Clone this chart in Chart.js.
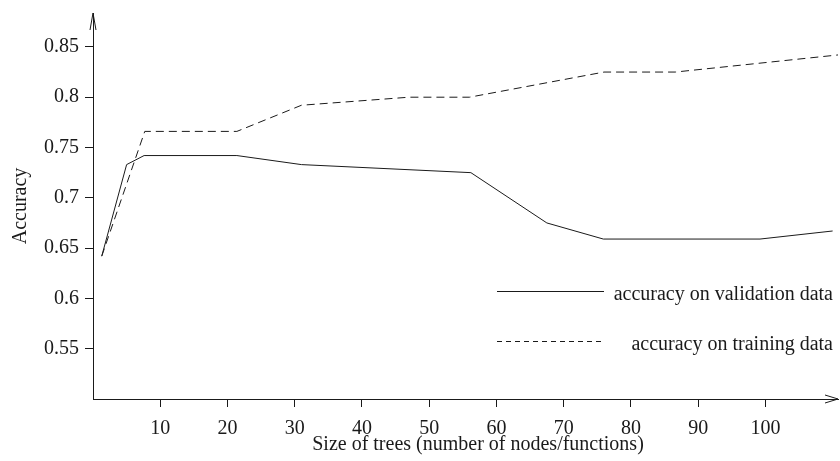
<!DOCTYPE html>
<html>
<head>
<meta charset="utf-8">
<script src="https://cdn.jsdelivr.net/npm/chart.js@4.4.1/dist/chart.umd.min.js"></script>
<style>
  html, body { margin: 0; padding: 0; background: #fff; }
  #wrap { width: 840px; height: 461px; }
</style>
</head>
<body>
<div id="wrap"><canvas id="grafica" width="840" height="461"></canvas></div>
<script>
// Accuracy vs. tree size
const sizeValid = [1.3, 5, 7.6, 21.4, 31, 56.2, 67.5, 75.9, 99.2, 110];
const accValid  = [0.642, 0.733, 0.742, 0.742, 0.733, 0.725, 0.675, 0.659, 0.659, 0.667];
const sizeTrain = [1.3, 7.7, 21.4, 31, 47, 56, 76, 86.6, 110.8];
const accTrain  = [0.642, 0.766, 0.766, 0.792, 0.8, 0.8, 0.825, 0.825, 0.842];

const xTicks = [10, 20, 30, 40, 50, 60, 70, 80, 90, 100];
const yTicks = [0.55, 0.6, 0.65, 0.7, 0.75, 0.8, 0.85];

const labelValid = 'accuracy on validation data';
const labelTrain = 'accuracy on training data';
const tituloX = 'Size of trees (number of nodes/functions)';

const fuente = 'Liberation Serif, Times New Roman, serif';
const tinta = '#1a1a1a';

// Arrow heads, x-axis title and the legend inside the plot
const flechasYLeyenda = {
    id: 'flechasYLeyenda',
    afterDraw(chart) {
        const ctx = chart.ctx;
        const a = chart.chartArea;
        ctx.save();
        ctx.strokeStyle = tinta;
        ctx.lineWidth = 1;
        // y arrow
        ctx.beginPath();
        ctx.moveTo(a.left - 3, a.top + 17);
        ctx.lineTo(a.left, a.top);
        ctx.lineTo(a.left + 3, a.top + 17);
        ctx.stroke();
        // x arrow
        ctx.beginPath();
        ctx.moveTo(a.right - 13, a.bottom - 4);
        ctx.lineTo(a.right, a.bottom);
        ctx.lineTo(a.right - 13, a.bottom + 4);
        ctx.stroke();

        ctx.font = '20px ' + fuente;
        ctx.fillStyle = tinta;

        // x title (sits a little right of the plot centre)
        ctx.textAlign = 'center';
        ctx.textBaseline = 'alphabetic';
        ctx.fillText(tituloX, a.left + 385, a.bottom + 51);

        // legend
        const filas = chart.data.datasets;
        const x0 = a.left + 404, x1 = a.left + 511;
        const yLinea = [a.top + 278, a.top + 328];
        ctx.textAlign = 'right';
        filas.forEach((ds, i) => {
            ctx.setLineDash(ds.borderDash && ds.borderDash.length ? [5, 4] : []);
            ctx.beginPath();
            ctx.moveTo(x0, yLinea[i] + 0.5);
            ctx.lineTo(x1, yLinea[i] + 0.5);
            ctx.stroke();
            ctx.setLineDash([]);
            ctx.fillText(ds.label, a.right - 5, yLinea[i] + 9);
        });
        ctx.restore();
    }
};

const sinRelleno = s => { s.paddingTop = 0; s.paddingBottom = 0; s.paddingLeft = 0; s.paddingRight = 0; };

const ctx = document.getElementById('grafica').getContext('2d');
new Chart(ctx, {
    type: 'line',
    data: {
        datasets: [{
            label: labelValid,
            data: sizeValid.map((x, i) => ({ x: x, y: accValid[i] })),
            borderColor: tinta,
            borderWidth: 1,
            pointRadius: 0,
            tension: 0,
            fill: false
        }, {
            label: labelTrain,
            data: sizeTrain.map((x, i) => ({ x: x, y: accTrain[i] })),
            borderColor: tinta,
            borderWidth: 1,
            borderDash: [8, 5],
            pointRadius: 0,
            tension: 0,
            fill: false
        }]
    },
    options: {
        responsive: false,
        animation: false,
        devicePixelRatio: 1,
        layout: { padding: { top: 13, right: 2, left: 0, bottom: 0 } },
        plugins: {
            legend: { display: false },
            tooltip: { enabled: false }
        },
        scales: {
            x: {
                type: 'linear',
                min: 0,
                max: 110.8,
                afterBuildTicks: s => { s.ticks = xTicks.map(v => ({ value: v })); },
                afterFit: s => { s.height = 62; sinRelleno(s); },
                grid: { drawOnChartArea: false, drawTicks: true, tickLength: 8, color: tinta },
                border: { display: true, color: tinta, width: 1 },
                ticks: {
                    color: tinta,
                    padding: 10,
                    maxRotation: 0,
                    font: { family: fuente, size: 20 },
                    callback: v => String(v)
                },
                title: { display: false }
            },
            y: {
                min: 0.5,
                max: 0.8837,
                afterBuildTicks: s => { s.ticks = yTicks.map(v => ({ value: v })); },
                afterFit: s => { s.width = 93; sinRelleno(s); },
                grid: { drawOnChartArea: false, drawTicks: true, tickLength: 8, color: tinta },
                border: { display: true, color: tinta, width: 1 },
                ticks: {
                    color: tinta,
                    padding: 6,
                    font: { family: fuente, size: 20 },
                    callback: v => String(Number(v.toFixed(2)))
                },
                title: {
                    display: true,
                    text: 'Accuracy',
                    color: tinta,
                    font: { family: fuente, size: 20 },
                    padding: { top: 9, bottom: 0 }
                }
            }
        }
    },
    plugins: [flechasYLeyenda]
});
</script>
</body>
</html>
